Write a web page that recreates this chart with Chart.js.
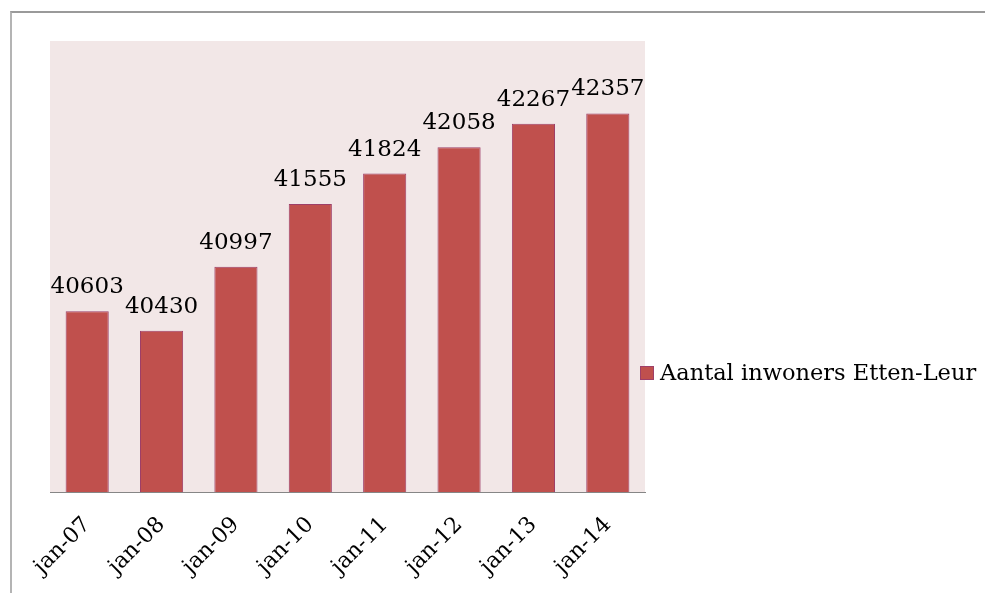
<!DOCTYPE html>
<html>
<head>
<meta charset="utf-8">
<script src="https://cdn.jsdelivr.net/npm/chart.js@4"></script>
<style>
    body { margin: 0; background: #fff; }
    #wrap { position: relative; width: 985px; height: 593px; overflow: hidden; }
    #frame { position: absolute; left: 10px; top: 11px; width: 1000px; height: 600px;
             border-left: 2px solid #b4b4b4; border-top: 2px solid #9a9a9a; }
    canvas { position: absolute; left: 0; top: 0; }
</style>
</head>
<body>
<div id="wrap">
    <div id="frame"></div>
    <canvas id="chart" width="985" height="593"></canvas>
</div>
<script>
// Datos
const categories = ['jan-07', 'jan-08', 'jan-09', 'jan-10', 'jan-11', 'jan-12', 'jan-13', 'jan-14'];
const inwoners = [40603, 40430, 40997, 41555, 41824, 42058, 42267, 42357];
const seriesName = 'Aantal inwoners Etten-Leur';

const fontFamily = '"DejaVu Serif", serif';
const barColor = '#C0504D';
const barBorder = '#9E3F68';

// Fondo del área del gráfico
const plotBackground = {
    id: 'plotBackground',
    beforeDraw(chart) {
        const { ctx, chartArea } = chart;
        ctx.save();
        ctx.fillStyle = '#F2E7E7';
        ctx.fillRect(chartArea.left, chartArea.top, chartArea.right - chartArea.left, chartArea.bottom - chartArea.top);
        ctx.restore();
    }
};

// Etiquetas de valor encima de cada barra
const valueLabels = {
    id: 'valueLabels',
    afterDatasetsDraw(chart) {
        const { ctx } = chart;
        const meta = chart.getDatasetMeta(0);
        ctx.save();
        ctx.font = '23px ' + fontFamily;
        ctx.fillStyle = '#000';
        ctx.textAlign = 'center';
        ctx.textBaseline = 'alphabetic';
        meta.data.forEach((bar, i) => {
            ctx.fillText(String(inwoners[i]), bar.x, bar.y - 18);
        });
        ctx.restore();
    }
};

// Leyenda a la derecha
const sideLegend = {
    id: 'sideLegend',
    afterDraw(chart) {
        const { ctx } = chart;
        const x = 640, y = 373;
        ctx.save();
        ctx.fillStyle = barColor;
        ctx.strokeStyle = barBorder;
        ctx.lineWidth = 1;
        ctx.fillRect(x, y - 7, 14, 14);
        ctx.strokeRect(x + 0.5, y - 6.5, 13, 13);
        ctx.font = '22.5px ' + fontFamily;
        ctx.fillStyle = '#000';
        ctx.textAlign = 'left';
        ctx.textBaseline = 'middle';
        ctx.fillText(seriesName, x + 20, y + 1);
        ctx.restore();
    }
};

const ctx = document.getElementById('chart').getContext('2d');
new Chart(ctx, {
    type: 'bar',
    data: {
        labels: categories,
        datasets: [{
            label: seriesName,
            data: inwoners,
            backgroundColor: barColor,
            borderColor: barBorder,
            borderWidth: 1,
            barPercentage: 0.58,
            categoryPercentage: 1
        }]
    },
    options: {
        responsive: false,
        animation: false,
        layout: {
            padding: { left: 50, top: 41, right: 340, bottom: 0 }
        },
        plugins: {
            legend: { display: false },
            tooltip: { enabled: false }
        },
        scales: {
            y: {
                display: false,
                min: 39000,
                max: 43000
            },
            x: {
                grid: { display: false },
                border: { display: true, color: '#868686', width: 1 },
                ticks: {
                    color: '#000',
                    minRotation: 45,
                    maxRotation: 45,
                    padding: 12,
                    font: { family: fontFamily, size: 22 }
                },
                afterFit(scale) {
                    scale.height = 101;
                }
            }
        }
    },
    plugins: [plotBackground, valueLabels, sideLegend]
});
</script>
</body>
</html>
